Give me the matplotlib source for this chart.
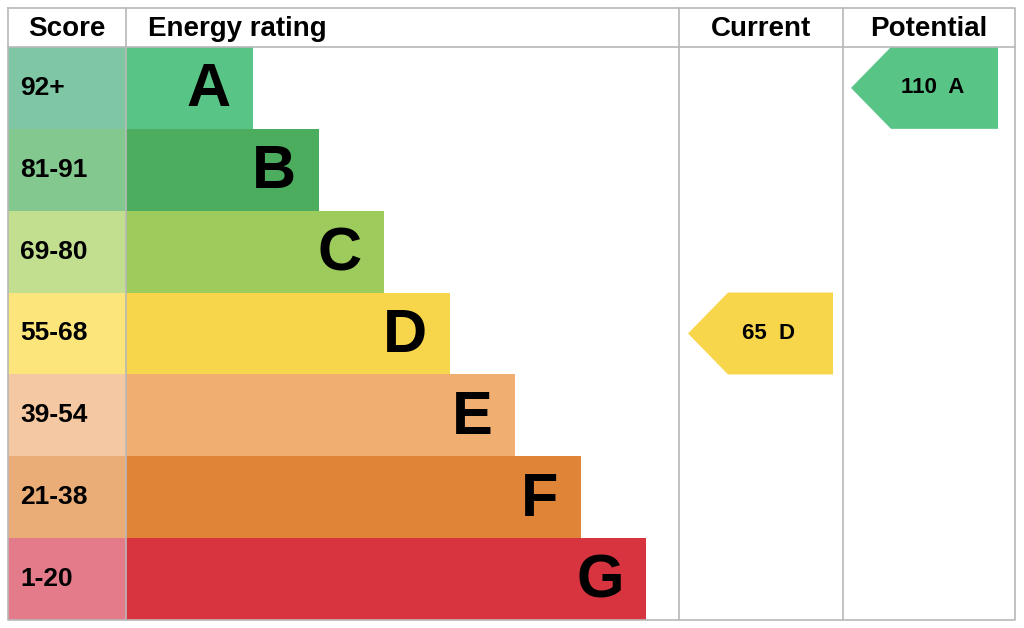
import matplotlib.pyplot as plt
from matplotlib.patches import Rectangle, Polygon

plt.rcParams['font.family'] = ['Liberation Sans', 'DejaVu Sans']

bands = ['A', 'B', 'C', 'D', 'E', 'F', 'G']
scores = ['92+', '81-91', '69-80', '55-68', '39-54', '21-38', '1-20']
bar_colors = ['#58c587', '#4cad5e', '#9dcb5c', '#f8d64b', '#f0ae71', '#e08538', '#d7343f']
score_colors = ['#7fc6a4', '#83c88f', '#c2df90', '#fce67c', '#f4c8a2', '#eaad77', '#e37b8b']
current_value, current_band = 65, 'D'
potential_value, potential_band = 110, 'A'

fig = plt.figure(figsize=(10.24, 6.28), dpi=100)
ax = fig.add_axes([0, 0, 1, 1])
ax.set_xlim(0, 1024)
ax.set_ylim(628, 0)
ax.axis('off')

left, top, right, bottom = 8, 8, 1015, 620
head = 47
col_score, col_rating, col_cur = 126, 679, 843
row_h = (bottom - head) / len(bands)
grid = '#b8b8b8'

for i, (b, s) in enumerate(zip(bands, scores)):
    y0 = head + i * row_h
    ax.add_patch(Rectangle((left, y0), col_score - left, row_h, color=score_colors[i], lw=0))
    x1 = 253 + 65.5 * i
    ax.add_patch(Rectangle((col_score, y0), x1 - col_score, row_h, color=bar_colors[i], lw=0))
    ax.text(20, y0 + row_h / 2, s, fontsize=19, fontweight='bold', va='center', ha='left')
    ax.text(x1 - 22, y0 + row_h / 2 + 3, b, fontsize=44, fontweight='bold', va='center', ha='right')


def arrow(x0, x1, band, label):
    i = bands.index(band)
    y0 = head + i * row_h
    ym = y0 + row_h / 2
    pts = [(x0, ym), (x0 + 40, y0), (x1, y0), (x1, y0 + row_h), (x0 + 40, y0 + row_h)]
    ax.add_patch(Polygon(pts, closed=True, color=bar_colors[i], lw=0))
    ax.text((x0 + x1) / 2 + 8, ym, label, fontsize=16, fontweight='bold', va='center', ha='center')


arrow(688, 833, current_band, f'{current_value}  {current_band}')
arrow(851, 998, potential_band, f'{potential_value}  {potential_band}')

# grid lines
ax.plot([left, right, right, left, left], [top, top, bottom, bottom, top], color=grid, lw=1.2)
ax.plot([left, right], [head, head], color=grid, lw=1.2)
for x in [col_score, col_rating, col_cur]:
    ax.plot([x, x], [top, bottom], color=grid, lw=1.2)

hy = (top + head) / 2 + 2
ax.text((left + col_score) / 2, hy, 'Score', fontsize=20, fontweight='bold', va='center', ha='center')
ax.text(148, hy, 'Energy rating', fontsize=20, fontweight='bold', va='center', ha='left')
ax.text((col_rating + col_cur) / 2, hy, 'Current', fontsize=20, fontweight='bold', va='center', ha='center')
ax.text((col_cur + right) / 2, hy, 'Potential', fontsize=20, fontweight='bold', va='center', ha='center')

fig.savefig('out.png', dpi=100)
